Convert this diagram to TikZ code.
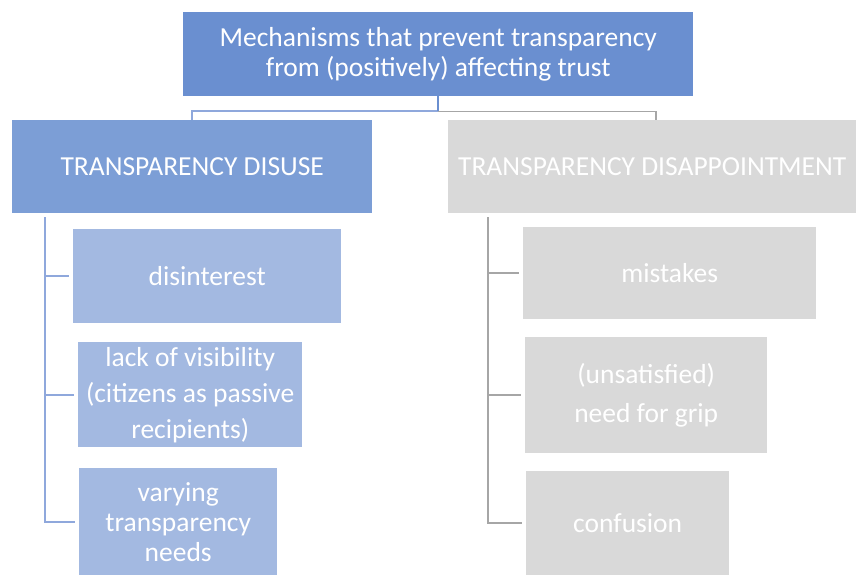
\documentclass[tikz,border=0pt]{standalone}
\usepackage{fontspec}
\setmainfont{Carlito}
\usepackage{xcolor}
\usetikzlibrary{calc}

\definecolor{topblue}{HTML}{6A8FD0}
\definecolor{midblue}{HTML}{7C9ED6}
\definecolor{lowblue}{HTML}{A3B9E1}
\definecolor{linkblue}{HTML}{8FA8DC}
\definecolor{boxgrey}{HTML}{D9D9D9}
\definecolor{linkgrey}{HTML}{A6A6A6}

\begin{document}
\begin{tikzpicture}[x=1pt,y=-1pt]
\tikzstyle{every node}+=[inner sep=0pt, anchor=north west, text=white, align=center]
\tikzstyle{box}=[rectangle, minimum width=#1]
\tikzstyle{bigtext}=[font=\fontsize{27.5}{30}\selectfont]
\tikzstyle{smalltext}=[font=\fontsize{27.5}{36}\selectfont]
\useasboundingbox (0,0) rectangle (856,575);
\node [box=510, minimum height=84, fill=topblue, bigtext] (top) at (183,12) {Mechanisms that prevent transparency\\from (positively) affecting trust};
\node [box=360, minimum height=93, fill=midblue, bigtext] (disuse) at (12,120) {TRANSPARENCY DISUSE};
\node [box=408, minimum height=93, fill=boxgrey, bigtext] (disap) at (448,120) {TRANSPARENCY DISAPPOINTMENT};
\node [box=268, minimum height=94, fill=lowblue, smalltext] (disint) at (73,229) {disinterest};
\node [box=224, minimum height=105, fill=lowblue, smalltext] (lack) at (78,342) {lack of visibility\\(citizens as passive\\recipients)};
\node [box=198, minimum height=107, fill=lowblue, bigtext] (vary) at (79,468) {varying\\transparency\\needs};
\node [box=293, minimum height=92, fill=boxgrey, smalltext] (mist) at (523,227) {mistakes};
\node [box=242, minimum height=116, fill=boxgrey, font=\fontsize{27.5}{39}\selectfont] (grip) at (525,337) {(unsatisfied)\\need for grip};
\node [box=203, minimum height=104, fill=boxgrey, smalltext] (conf) at (526,471) {confusion};
\draw [linkblue, line width=2pt] (top.south) -- ++(0,15) -| (disuse.north);
\draw [linkgrey, line width=1.5pt] (top.south) ++(0,15) -| ($(disap.north)+(4,0)$);
\draw [topblue, line width=2.5pt] (top.south) -- ++(0,15);
\draw [linkblue, line width=2pt] (disuse.south west) ++(33,4) coordinate (lspine) |- ([xshift=-4]vary.west);
\draw [linkblue, line width=2pt] (lspine |- disint.west) -- ([xshift=-4]disint.west);
\draw [linkblue, line width=2pt] (lspine |- lack.west) -- ([xshift=-4]lack.west);
\draw [linkgrey, line width=1.5pt] (disap.south west) ++(40,4) coordinate (rspine) |- ([xshift=-4]conf.west);
\draw [linkgrey, line width=1.5pt] (rspine |- mist.west) -- ([xshift=-4]mist.west);
\draw [linkgrey, line width=1.5pt] (rspine |- grip.west) -- ([xshift=-4]grip.west);
\end{tikzpicture}
\end{document}
